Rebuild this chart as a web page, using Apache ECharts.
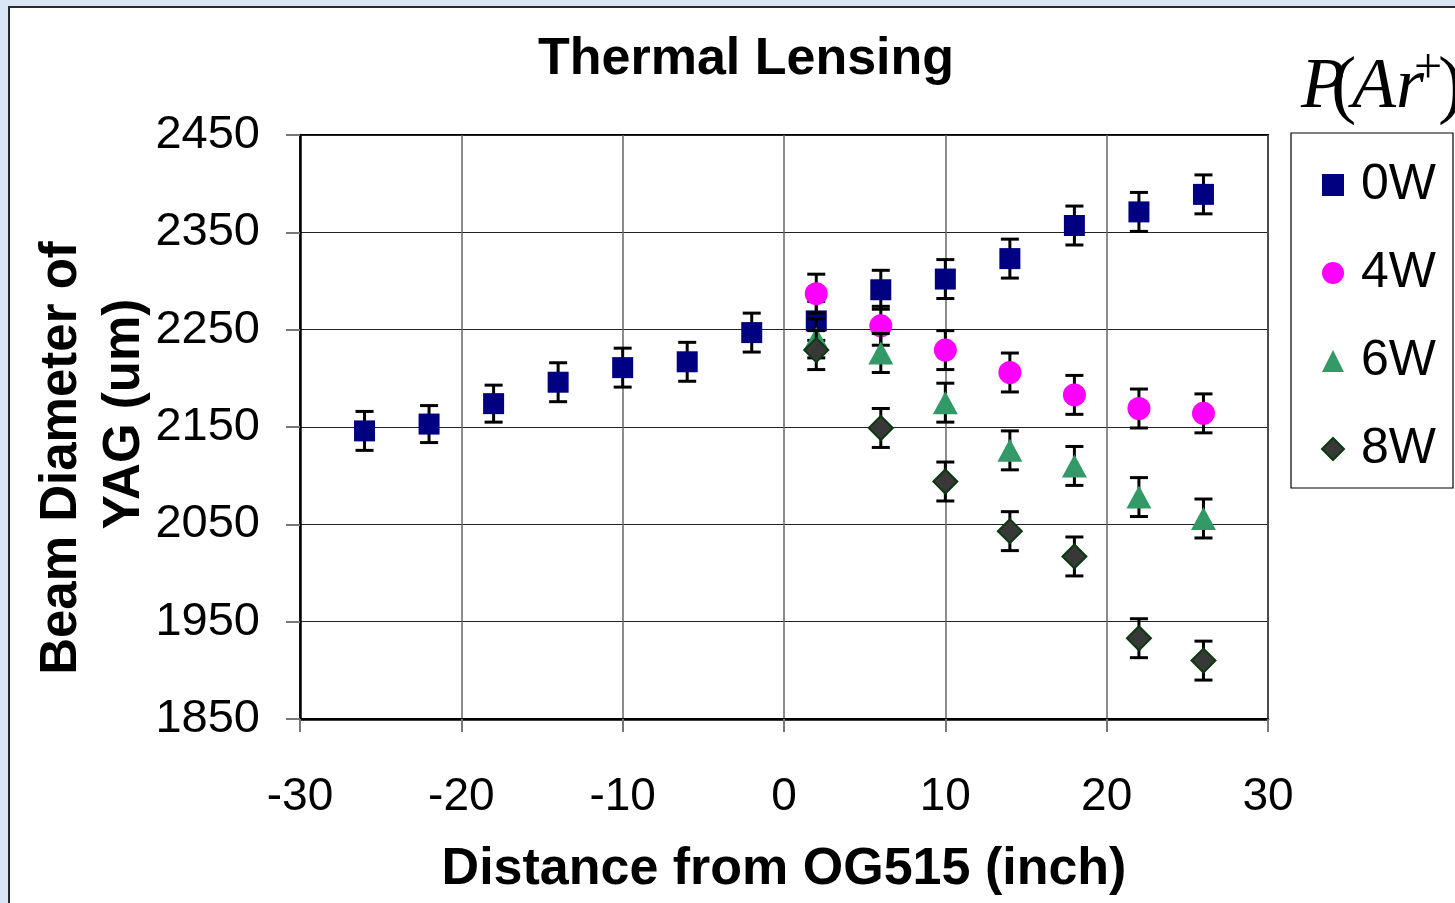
<!DOCTYPE html>
<html>
<head>
<meta charset="utf-8">
<script src="https://cdn.jsdelivr.net/npm/echarts@6/dist/echarts.min.js"></script>
<style>
html,body{margin:0;padding:0;width:1455px;height:903px;overflow:hidden;background:#d9e6f4;}
#panel{position:absolute;left:8px;top:6px;width:1500px;height:950px;background:#ffffff;border:2px solid #2a2a2a;box-sizing:border-box;}
#chart{position:absolute;left:0;top:0;width:1455px;height:903px;}
</style>
</head>
<body>
<div id="panel"></div>
<div id="chart"></div>
<script>
// ---- data ----
const xTicks = [-30, -20, -10, 0, 10, 20, 30];
const yTicks = [1850, 1950, 2050, 2150, 2250, 2350, 2450];

const x0W = [-26, -22, -18, -14, -10, -6, -2, 2, 6, 10, 14, 18, 22, 26];
const y0W = [2146, 2153, 2174, 2196, 2211, 2217, 2247, 2259, 2291, 2302, 2323, 2357, 2371, 2389];
const e0W = [20, 19, 19, 20, 20, 20, 20, 20, 20, 20, 20, 20, 20, 20];

const x4W = [2, 6, 10, 14, 18, 22, 26];
const y4W = [2287, 2254, 2229, 2206, 2183, 2169, 2164];
const e4W = [20, 20, 20, 20, 20, 20, 20];

const x6W = [2, 6, 10, 14, 18, 22, 26];
const y6W = [2241, 2226, 2175, 2126, 2110, 2078, 2056];
const e6W = [20, 20, 20, 20, 20, 20, 20];

const x8W = [2, 6, 10, 14, 18, 22, 26];
const y8W = [2229, 2149, 2094, 2043, 2017, 1933, 1910];
const e8W = [20, 20, 20, 20, 20, 20, 20];

const seriesNames = ['0W', '4W', '6W', '8W'];

// ---- build ----
function pts(xs, ys) { return xs.map((x, i) => [x, ys[i]]); }
function errPts(xs, ys, es) { return xs.map((x, i) => [x, ys[i], es[i]]); }

function errSeries(name, xs, ys, es, z) {
  return {
    type: 'custom',
    name: name + ' err',
    z: z,
    silent: true,
    data: errPts(xs, ys, es),
    renderItem: function (params, api) {
      const x = api.value(0), y = api.value(1), e = api.value(2);
      const top = api.coord([x, y + e]);
      const bot = api.coord([x, y - e]);
      const hw = 9;
      const style = { stroke: '#000', lineWidth: 3 };
      return {
        type: 'group',
        children: [
          { type: 'line', shape: { x1: top[0], y1: top[1], x2: bot[0], y2: bot[1] }, style: style },
          { type: 'line', shape: { x1: top[0] - hw, y1: top[1], x2: top[0] + hw, y2: top[1] }, style: style },
          { type: 'line', shape: { x1: bot[0] - hw, y1: bot[1], x2: bot[0] + hw, y2: bot[1] }, style: style }
        ]
      };
    }
  };
}

const chart = echarts.init(document.getElementById('chart'), null, { renderer: 'canvas' });
const FONT = 'Liberation Sans, Arial, sans-serif';
const SERIF = 'Liberation Serif, Times New Roman, serif';

const option = {
  backgroundColor: 'transparent',
  animation: false,
  textStyle: { fontFamily: FONT },
  title: {
    text: 'Thermal Lensing',
    left: 741,
    top: 29,
    textAlign: 'center',
    textStyle: { fontFamily: FONT, fontSize: 52, fontWeight: 'bold', color: '#000' }
  },
  grid: {
    left: 300, top: 135, right: 187, bottom: 184,
    show: true, borderColor: '#000', borderWidth: 2, backgroundColor: 'transparent'
  },
  legend: {
    orient: 'vertical',
    left: 1291, top: 133,
    data: seriesNames,
    backgroundColor: '#fff',
    borderColor: '#000', borderWidth: 1.2,
    padding: [27, 17, 14, 30],
    itemGap: 38,
    itemWidth: 22, itemHeight: 22,
    textStyle: { fontFamily: FONT, fontSize: 50, color: '#000', padding: [0, 0, 0, 12] }
  },
  xAxis: {
    type: 'value',
    min: -30, max: 30, interval: 10,
    name: 'Distance from OG515 (inch)',
    nameLocation: 'middle',
    nameGap: 125,
    nameTextStyle: { fontFamily: FONT, fontSize: 52, fontWeight: 'bold', color: '#000' },
    axisLine: { show: true, onZero: false, lineStyle: { color: '#000', width: 2.5 } },
    axisTick: { show: true, inside: false, length: 13, lineStyle: { color: '#777', width: 2 } },
    axisLabel: { fontFamily: FONT, fontSize: 46, color: '#000', margin: 55, formatter: v => String(v) },
    splitLine: { show: true, lineStyle: { color: '#666', width: 1.5 } }
  },
  yAxis: {
    type: 'value',
    min: 1850, max: 2450,
    axisLine: { show: true, onZero: false, lineStyle: { color: '#000', width: 2.5 } },
    axisTick: { show: true, length: 14, customValues: yTicks, lineStyle: { color: '#777', width: 2 } },
    axisLabel: { fontFamily: FONT, fontSize: 47, color: '#000', margin: 40, customValues: yTicks, formatter: v => String(v) },
    splitLine: { show: true, lineStyle: { color: '#222', width: 1.2 } }
  },
  graphic: [
    { type: 'text', x: 62, y: 458, rotation: Math.PI / 2, z: 10,
      style: { text: 'Beam Diameter of', font: 'bold 51px ' + FONT, fill: '#000', textAlign: 'center', textVerticalAlign: 'middle' } },
    { type: 'text', x: 125, y: 414, rotation: Math.PI / 2, z: 10,
      style: { text: 'YAG (um)', font: 'bold 51px ' + FONT, fill: '#000', textAlign: 'center', textVerticalAlign: 'middle' } },
    { type: 'text', x: 1301, y: 124, z: 10,
      style: { text: 'P', font: 'italic 72px ' + SERIF, fill: '#000', textAlign: 'left', textVerticalAlign: 'bottom' } },
    { type: 'text', x: 1331, y: 127, z: 10,
      style: { text: '(', font: '76px ' + SERIF, fill: '#000', textAlign: 'left', textVerticalAlign: 'bottom' } },
    { type: 'text', x: 1352, y: 124, z: 10,
      style: { text: 'Ar', font: 'italic 72px ' + SERIF, fill: '#000', textAlign: 'left', textVerticalAlign: 'bottom' } },
    { type: 'text', x: 1428, y: 70, z: 10,
      style: { text: '+', font: '50px ' + SERIF, fill: '#000', textAlign: 'center', textVerticalAlign: 'middle' } },
    { type: 'text', x: 1438, y: 127, z: 10,
      style: { text: ')', font: '76px ' + SERIF, fill: '#000', textAlign: 'left', textVerticalAlign: 'bottom' } }
  ],
  series: [
    errSeries('0W', x0W, y0W, e0W, 3),
    { type: 'scatter', name: '0W', z: 4, data: pts(x0W, y0W), symbol: 'rect', symbolSize: 21,
      itemStyle: { color: '#000080', opacity: 1 } },
    errSeries('4W', x4W, y4W, e4W, 5),
    { type: 'scatter', name: '4W', z: 6, data: pts(x4W, y4W), symbol: 'circle', symbolSize: 23,
      itemStyle: { color: '#ff00ff', opacity: 1 } },
    errSeries('6W', x6W, y6W, e6W, 7),
    { type: 'scatter', name: '6W', z: 8, data: pts(x6W, y6W), symbol: 'triangle', symbolSize: [25, 23],
      itemStyle: { color: '#339966', opacity: 1 } },
    errSeries('8W', x8W, y8W, e8W, 9),
    { type: 'scatter', name: '8W', z: 10, data: pts(x8W, y8W), symbol: 'diamond', symbolSize: [24, 24],
      itemStyle: { color: '#383838', borderColor: '#0b3a10', borderWidth: 2, opacity: 1 } }
  ]
};
chart.setOption(option);
</script>
</body>
</html>
